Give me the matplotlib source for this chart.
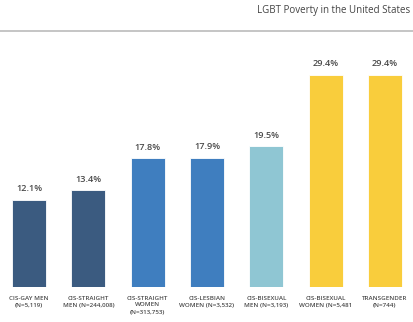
import matplotlib
matplotlib.use("Agg")
import matplotlib.pyplot as plt

categories = [
    "CIS-GAY MEN\n(N=5,119)",
    "CIS-STRAIGHT\nMEN (N=244,008)",
    "CIS-STRAIGHT\nWOMEN\n(N=313,753)",
    "CIS-LESBIAN\nWOMEN (N=3,532)",
    "CIS-BISEXUAL\nMEN (N=3,193)",
    "CIS-BISEXUAL\nWOMEN (N=5,481",
    "TRANSGENDER\n(N=744)",
]
poverty_pct = [12.1, 13.4, 17.8, 17.9, 19.5, 29.4, 29.4]
bar_colors = ["#3b5b80", "#3b5b80", "#3f7ebf", "#3f7ebf", "#8fc6d3", "#f9cd3c", "#f9cd3c"]
title = "LGBT Poverty in the United States"

plt.rcParams["font.family"] = ["Open Sans", "DejaVu Sans"]

W, H = 414, 322
fig = plt.figure(figsize=(W / 100, H / 100), dpi=100)
fig.patch.set_facecolor("white")

# axes placed in pixel terms: baseline near the bottom, room above for values
base_px, top_px = 287, 40
ax = fig.add_axes([0, (H - base_px) / H, 1, (base_px - top_px) / H])
px_per_unit = 59.33
first_center = 29
ax.set_xlim(-first_center / px_per_unit, (W - first_center) / px_per_unit)
ax.set_ylim(0, (base_px - top_px) / 7.225)

x = range(len(categories))
bars = ax.bar(x, poverty_pct, width=34 / px_per_unit, color=bar_colors,
              edgecolor="white", linewidth=0.6)

for xi, v in zip(x, poverty_pct):
    ax.annotate(f"{v:.1f}%", (xi, v), xytext=(0, 8), textcoords="offset points",
                ha="center", va="center", fontsize=6.6, color="#4a4a4a",
                fontweight="semibold")

for xi, lab in zip(x, categories):
    ax.annotate(lab, (xi, 0), xytext=(0, -6.5), textcoords="offset points",
                ha="center", va="top", fontsize=4.5, color="#4a4a4a",
                linespacing=1.35, fontweight="semibold")

ax.axis("off")

# header with a rule underneath
fig.text(410 / W, 1 - 10 / H, title, ha="right", va="center",
         fontsize=7.0, color="#444444")
fig.add_artist(plt.Line2D([0, 1], [1 - 31 / H, 1 - 31 / H], color="#bbbbbb",
                          linewidth=1.2, transform=fig.transFigure))

fig.savefig("out.png", dpi=100, facecolor="white")
